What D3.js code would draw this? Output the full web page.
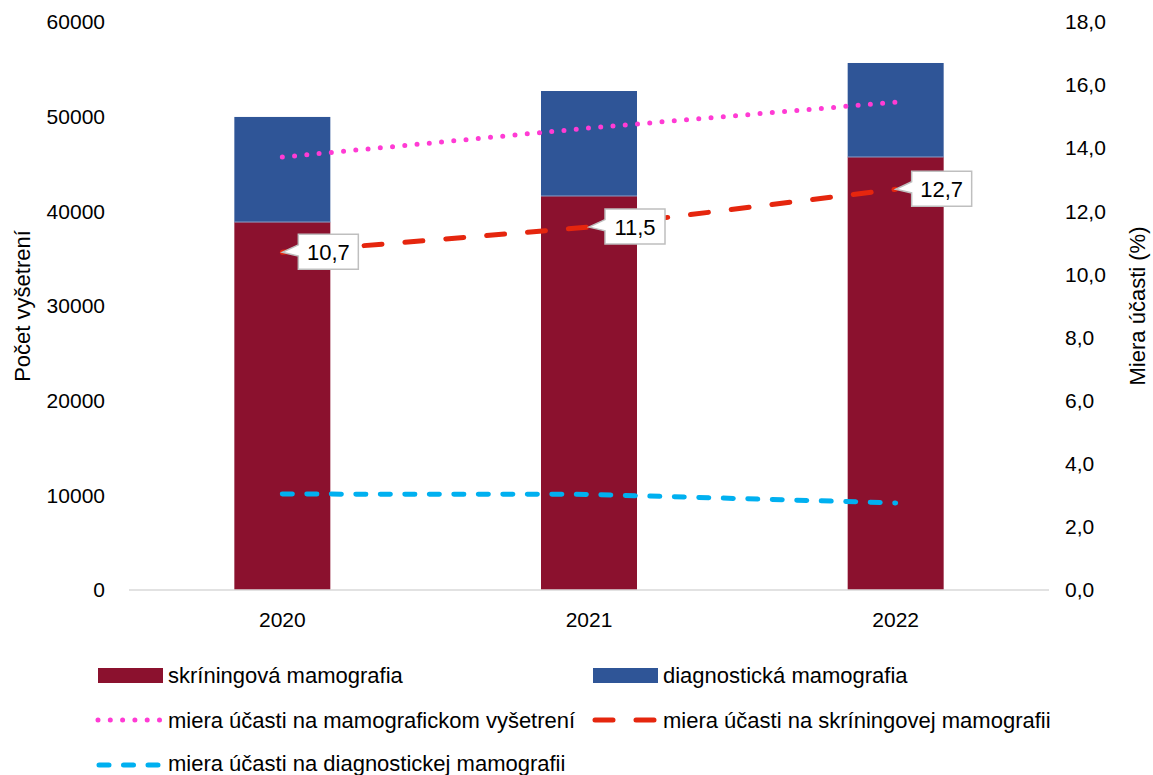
<!DOCTYPE html>
<html>
<head>
<meta charset="utf-8">
<title>Mamografia</title>
<script src="https://cdn.jsdelivr.net/npm/d3@7"></script>
<style>
    body { margin: 0; background: #fff; }
    text { font-family: "Liberation Sans", Arial, sans-serif; fill: #000; }
</style>
</head>
<body>
<script>
// data
var years = ["2020", "2021", "2022"];
var screening = [38870, 41620, 45740];      // skríningová mamografia
var diagnostic = [11100, 11090, 9930];      // diagnostická mamografia
var rateTotal = [13.72, 14.64, 15.46];      // miera účasti na mamografickom vyšetrení
var rateScreening = [10.7, 11.5, 12.7];     // miera účasti na skríningovej mamografii
var rateDiagnostic = [3.04, 3.03, 2.76];    // miera účasti na diagnostickej mamografii
var leftTicks = [0, 10000, 20000, 30000, 40000, 50000, 60000];
var rightTicks = [0, 2, 4, 6, 8, 10, 12, 14, 16, 18];

var w = 1153, h = 775;
var plotLeft = 129, plotRight = 1049, plotTop = 22, plotBottom = 590;

var svg = d3.select("body").append("svg").attr("width", w).attr("height", h);

var x = d3.scaleBand().domain(years).range([plotLeft, plotRight]).paddingInner(0.687).paddingOuter(0.3435);
var yL = d3.scaleLinear().domain([0, 60000]).range([plotBottom, plotTop]);
var yR = d3.scaleLinear().domain([0, 18]).range([plotBottom, plotTop]);

var fmt = function(v) { return d3.format(".1f")(v).replace(".", ","); };

// bars
var bars = svg.append("g");
bars.selectAll("rect.scr").data(screening).enter().append("rect")
    .attr("x", function(d, i) { return x(years[i]); })
    .attr("y", function(d) { return yL(d); })
    .attr("width", x.bandwidth())
    .attr("height", function(d) { return yL(0) - yL(d); })
    .attr("fill", "#8B112E");
bars.selectAll("rect.diag").data(diagnostic).enter().append("rect")
    .attr("x", function(d, i) { return x(years[i]); })
    .attr("y", function(d, i) { return yL(screening[i] + d); })
    .attr("width", x.bandwidth())
    .attr("height", function(d) { return yL(0) - yL(d); })
    .attr("fill", "#2F5597");
bars.selectAll("line.sep").data(screening).enter().append("line")
    .attr("x1", function(d, i) { return x(years[i]); })
    .attr("x2", function(d, i) { return x(years[i]) + x.bandwidth(); })
    .attr("y1", function(d) { return yL(d); })
    .attr("y2", function(d) { return yL(d); })
    .attr("stroke", "#8da0c8").attr("stroke-width", 1);

// x axis line
svg.append("line").attr("x1", plotLeft).attr("x2", plotRight).attr("y1", plotBottom).attr("y2", plotBottom)
    .attr("stroke", "#d9d9d9").attr("stroke-width", 1.5);

// axes (text only, no tick marks)
var gL = svg.append("g").attr("transform", "translate(" + (plotLeft - 21) + ",0)")
    .call(d3.axisLeft(yL).tickValues(leftTicks).tickSize(0).tickFormat(d3.format("d")));
gL.select(".domain").remove();
gL.selectAll("text").attr("font-size", "21px");

var gR = svg.append("g").attr("transform", "translate(" + (plotRight + 13) + ",0)")
    .call(d3.axisRight(yR).tickValues(rightTicks).tickSize(0).tickFormat(fmt));
gR.select(".domain").remove();
gR.selectAll("text").attr("font-size", "21px");

var gX = svg.append("g").attr("transform", "translate(0," + plotBottom + ")")
    .call(d3.axisBottom(x).tickSize(0).tickPadding(22));
gX.select(".domain").remove();
gX.selectAll("text").attr("font-size", "21px");

svg.selectAll(".tick text").style("font-family", "'Liberation Sans', Arial, sans-serif").attr("fill", "#000");

// axis titles
svg.append("text").attr("transform", "translate(30,306) rotate(-90)")
    .attr("text-anchor", "middle").attr("font-size", "22px").text("Počet vyšetrení");
svg.append("text").attr("transform", "translate(1145,306) rotate(-90)")
    .attr("text-anchor", "middle").attr("font-size", "22px").text("Miera účasti (%)");

// lines
function cx(i) { return x(years[i]) + x.bandwidth() / 2; }
var line = d3.line().x(function(d, i) { return cx(i); }).y(function(d) { return yR(d); });

svg.append("path").datum(rateTotal).attr("d", line).attr("fill", "none")
    .attr("stroke", "#FF3BD4").attr("stroke-width", 5).attr("stroke-linecap", "round")
    .attr("stroke-dasharray", "0 12.3");
svg.append("path").datum(rateScreening).attr("d", line).attr("fill", "none")
    .attr("stroke", "#E5260E").attr("stroke-width", 5).attr("stroke-linecap", "round")
    .attr("stroke-dasharray", "18 23");
svg.append("path").datum(rateDiagnostic).attr("d", line).attr("fill", "none")
    .attr("stroke", "#00B0F0").attr("stroke-width", 5).attr("stroke-linecap", "round")
    .attr("stroke-dasharray", "10 14.5");

// callout labels on the screening line
var callouts = svg.append("g");
rateScreening.forEach(function(v, i) {
    var px = cx(i), py = yR(v);
    var bx = px + 16, by = py - 18, bw = 60, bh = 35;
    var p = "M" + bx + "," + by + "H" + (bx + bw) + "V" + (by + bh) + "H" + bx +
        "V" + (by + bh * 0.62) + "L" + px + "," + py + "L" + bx + "," + (by + bh * 0.3) + "Z";
    callouts.append("path").attr("d", p).attr("fill", "#fff").attr("stroke", "#bfbfbf").attr("stroke-width", 1.5);
    callouts.append("text").attr("x", bx + bw / 2).attr("y", by + bh / 2 + 8)
        .attr("text-anchor", "middle").attr("font-size", "22px").text(fmt(v));
});

// legend
var lg = svg.append("g");
lg.append("rect").attr("x", 98).attr("y", 668).attr("width", 65).attr("height", 15).attr("fill", "#8B112E");
lg.append("text").attr("x", 168).attr("y", 683).attr("font-size", "22px").text("skríningová mamografia");
lg.append("rect").attr("x", 593).attr("y", 668).attr("width", 65).attr("height", 15).attr("fill", "#2F5597");
lg.append("text").attr("x", 663).attr("y", 683).attr("font-size", "22px").text("diagnostická mamografia");

lg.append("line").attr("x1", 98).attr("x2", 162).attr("y1", 720).attr("y2", 720)
    .attr("stroke", "#FF3BD4").attr("stroke-width", 5).attr("stroke-linecap", "round").attr("stroke-dasharray", "0 12.3");
lg.append("text").attr("x", 168).attr("y", 728).attr("font-size", "22px").text("miera účasti na mamografickom vyšetrení");
lg.append("line").attr("x1", 595).attr("x2", 655).attr("y1", 720).attr("y2", 720)
    .attr("stroke", "#E5260E").attr("stroke-width", 5).attr("stroke-linecap", "round").attr("stroke-dasharray", "18 23");
lg.append("text").attr("x", 663).attr("y", 728).attr("font-size", "22px").text("miera účasti na skríningovej mamografii");

lg.append("line").attr("x1", 99).attr("x2", 162).attr("y1", 765).attr("y2", 765)
    .attr("stroke", "#00B0F0").attr("stroke-width", 5).attr("stroke-linecap", "round").attr("stroke-dasharray", "10 14.5");
lg.append("text").attr("x", 168).attr("y", 771).attr("font-size", "22px").text("miera účasti na diagnostickej mamografii");
</script>
</body>
</html>
